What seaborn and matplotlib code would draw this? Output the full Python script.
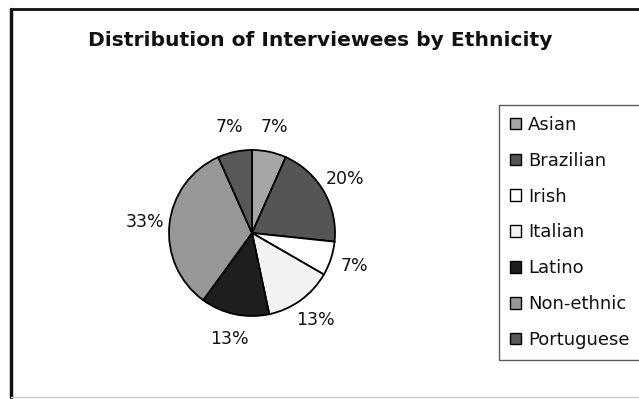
import matplotlib
matplotlib.use("Agg")
import matplotlib.pyplot as plt
import seaborn as sns
from matplotlib.lines import Line2D

categories = ["Asian", "Brazilian", "Irish", "Italian", "Latino", "Non-ethnic", "Portuguese"]
counts = [1, 3, 1, 2, 2, 5, 1]
colors = ["#a6a6a6", "#555555", "#ffffff", "#f2f2f2", "#1e1e1e", "#979797", "#585858"]
title = "Distribution of Interviewees by Ethnicity"

sns.set_theme(style="white")
plt.rcParams["font.family"] = ["DejaVu Sans"]
plt.rcParams["text.color"] = "#111111"

W, H = 639, 399
fig = plt.figure(figsize=(W / 100, H / 100), dpi=100)
fig.patch.set_facecolor("white")

cx, cy, r = 252, 399 - 233, 83
lim = 1.5
side = 2 * lim * r
ax = fig.add_axes([(cx - side / 2) / W, (cy - side / 2) / H, side / W, side / H])

wedges, texts, autotexts = ax.pie(
    counts, colors=colors, startangle=90, counterclock=False,
    autopct=lambda p: f"{p:.0f}%", pctdistance=1.3,
    wedgeprops=dict(edgecolor="black", linewidth=1.3),
    textprops=dict(fontsize=12.5, color="#111111"),
)
ax.set_xlim(-lim, lim)
ax.set_ylim(-lim, lim)
ax.set_aspect("equal")
ax.axis("off")

fig.text(320 / W, 1 - 40 / H, title, ha="center", va="center",
         fontsize=14.6, fontweight="bold", color="#111111")

leg = fig.legend(wedges, categories, loc="upper left",
                 bbox_to_anchor=(499 / W, 1 - 105 / H), fontsize=13,
                 frameon=True, fancybox=False, shadow=False,
                 handlelength=0.6, handleheight=0.6, handletextpad=0.4,
                 labelspacing=0.99, borderpad=0.6, borderaxespad=0)
leg.get_frame().set_edgecolor("#333333")
leg.get_frame().set_linewidth(1.0)
for t in leg.get_texts():
    t.set_color("#111111")
for h in leg.legend_handles:
    h.set_linewidth(1.0)

fig.add_artist(Line2D([11 / W, 11 / W], [2 / H, 1 - 9 / H], transform=fig.transFigure,
                      color="#111111", linewidth=2.5))
fig.add_artist(Line2D([11 / W, 1], [1 - 9 / H, 1 - 9 / H], transform=fig.transFigure,
                      color="#111111", linewidth=2))
fig.add_artist(Line2D([11 / W, 1], [2 / H, 2 / H], transform=fig.transFigure,
                      color="#cccccc", linewidth=1))

fig.savefig("out.png", dpi=100, facecolor="white")
